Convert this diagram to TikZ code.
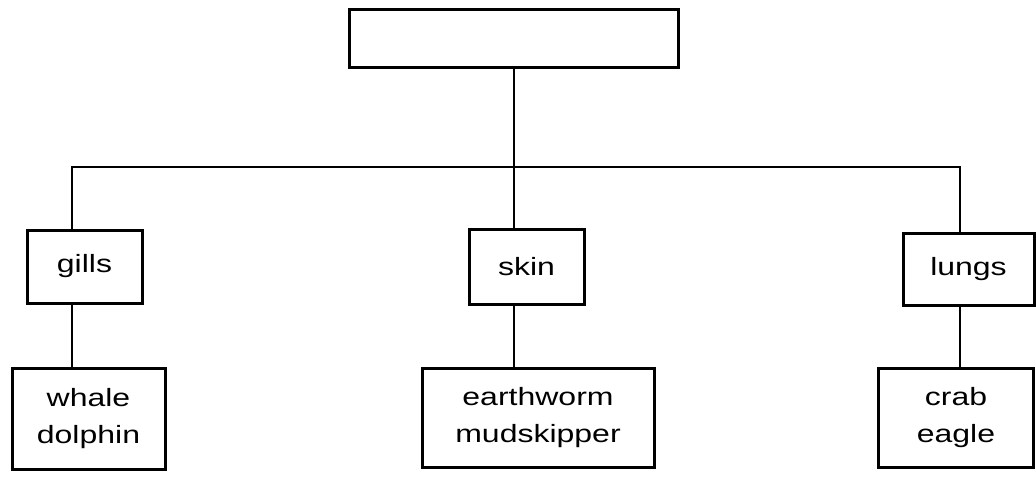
\documentclass[tikz,border=0pt]{standalone}
\usepackage{fontspec}
\setmainfont{Liberation Sans}
\usepackage{graphicx}
% wide, slightly flattened lettering
\newcommand{\stretchtxt}[1]{\scalebox{1.28}[1]{#1}}
\begin{document}
\begin{tikzpicture}[x=1pt,y=-1pt,
  box/.style={draw=black, line width=3pt, inner sep=0pt, outer sep=0pt,
    align=center, font=\fontsize{25}{37}\selectfont},
  link/.style={draw=black, line width=2.6pt}]
\useasboundingbox (0,0) rectangle (1036,477);

% title box (empty)
\node[box, minimum width=329pt, minimum height=58pt] (top) at (513.5,38) {};

% second level
\node[box, minimum width=115pt, minimum height=73pt] (gills) at (84.5,266.5) {\stretchtxt{gills}};
\node[box, minimum width=115pt, minimum height=75pt] (skin) at (526.5,267) {\stretchtxt{skin}};
\node[box, minimum width=131pt, minimum height=72pt] (lungs) at (968.5,269) {\stretchtxt{lungs}};

% third level
\node[box, minimum width=153pt, minimum height=101pt] (whale) at (88.5,418.5)
  {\stretchtxt{whale}\\\stretchtxt{dolphin}};
\node[box, minimum width=232pt, minimum height=99pt] (worm) at (538,417.5)
  {\stretchtxt{earthworm}\\\stretchtxt{mudskipper}};
\node[box, minimum width=155pt, minimum height=99pt] (crab) at (956,417.5)
  {\stretchtxt{crab}\\\stretchtxt{eagle}};

% bus line joints
\coordinate (busL) at (72,167);
\coordinate (busM) at (514,167);
\coordinate (busR) at (960,167);

% connectors
\draw[link] (top.south -| busM) -- (busM);
\draw[link, line cap=rect] (busL) -- (busR);
\draw[link] (busL) -- (busL |- gills.north);
\draw[link] (busM) -- (busM |- skin.north);
\draw[link] (busR) -- (busR |- lungs.north);
\draw[link] (gills.south -| busL) -- (busL |- whale.north);
\draw[link] (skin.south -| busM) -- (busM |- worm.north);
\draw[link] (lungs.south -| busR) -- (busR |- crab.north);
\end{tikzpicture}
\end{document}
